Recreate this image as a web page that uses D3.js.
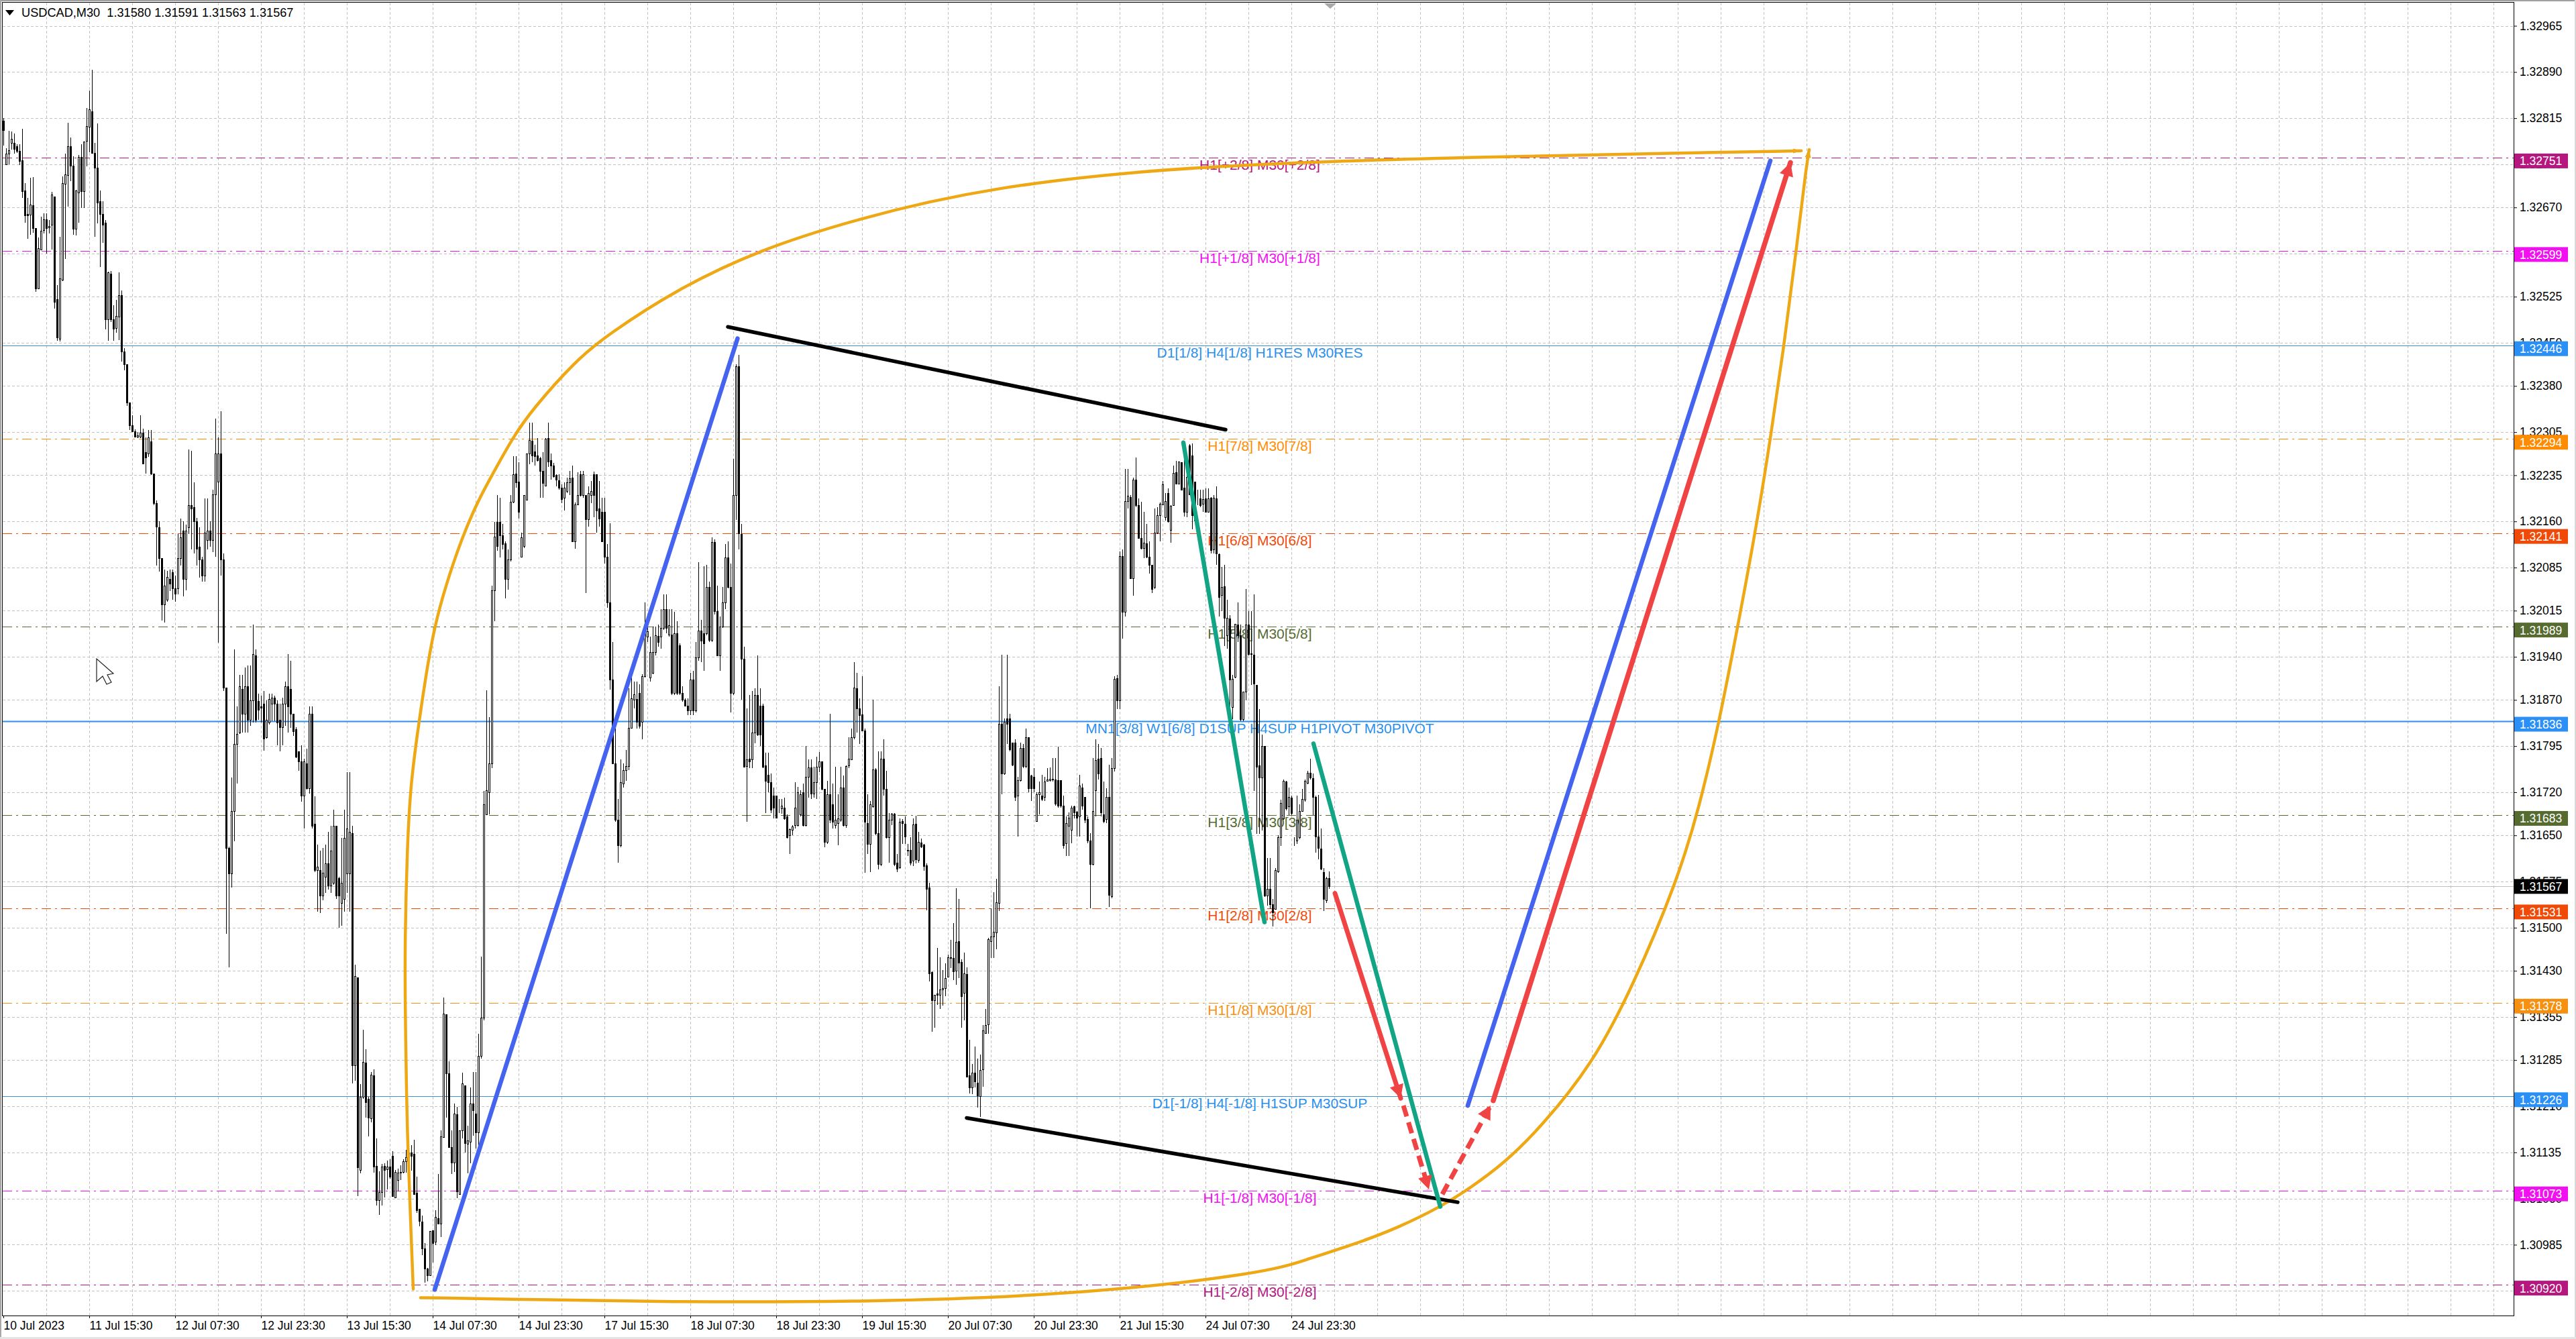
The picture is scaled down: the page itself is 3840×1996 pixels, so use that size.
<!DOCTYPE html>
<html><head><meta charset="utf-8">
<script src="https://cdn.jsdelivr.net/npm/d3@7"></script>
<style>html,body{margin:0;padding:0;background:#fff;overflow:hidden}svg{display:block}text{font-family:"Liberation Sans",Arial,sans-serif}</style>
</head><body><svg id="c" width="3840" height="1996"></svg>
<script>
// Values are points above 1.30000 (2751 = 1.32751), one entry per 30-minute bar.
const opens=[
2811,2740,2757,2775,2775,2769,2762,2746,2697,2659,
2658,2674,2636,2538,2602,2633,2651,2637,2642,2688,
2521,2457,2553,2708,2722,2769,2738,2635,2694,2752,
2696,2778,2801,2826,2758,2734,2680,2659,2645,2488,
2562,2488,2474,2493,2527,2436,2415,2353,2316,2306,
2298,2298,2304,2272,2270,2290,2238,2190,2150,2100,
2025,2033,2066,2077,2051,2051,2100,2145,2067,2150,
2186,2183,2160,2119,2098,2072,2130,2145,2130,2204,
2225,2270,2098,1890,1630,1588,1690,1798,1817,1888,
1848,1892,1838,1869,1942,1868,1860,1864,1809,1833,
1864,1874,1864,1838,1826,1864,1892,1888,1848,1822,
1786,1770,1715,1767,1726,1848,1669,1594,1594,1552,
1583,1604,1568,1573,1666,1580,1540,1547,1588,1588,
1653,1276,1419,1106,1225,1281,1222,1190,1260,1113,
1057,1071,1113,1108,1112,1129,1062,1090,1103,1103,
1121,1127,1135,1133,1069,1043,1023,979,946,935,
1008,990,1028,1019,1160,1359,1263,1143,1118,1197,
1067,1171,1244,1149,1152,1214,1198,1167,1292,1354,
1684,1720,1767,2048,2159,2159,2137,2124,2067,2098,
2192,2238,2224,2103,2120,2195,2270,2291,2274,2267,
2263,2242,2218,2295,2259,2251,2235,2227,2215,2198,
2209,2223,2231,2128,2187,2237,2203,2203,2163,2203,
2237,2237,2181,2176,2176,2103,2028,1903,1767,1675,
1634,1734,1756,1763,1825,1870,1871,1881,1834,1909,
1973,1906,1914,1948,1974,1973,1987,2017,1976,1976,
1881,1978,1959,1881,1870,1861,1853,1903,1853,1939,
1983,1978,1978,2053,1967,2126,2014,1942,1989,2028,
2101,2053,1881,2203,2412,2140,1937,1763,1775,1773,
1817,1878,1861,1861,1764,1748,1736,1714,1714,1690,
1694,1695,1681,1650,1659,1667,1667,1684,1720,1667,
1745,1760,1718,1736,1761,1770,1725,1639,1717,1700,
1667,1670,1675,1728,1667,1764,1773,1809,1889,1856,
1846,1820,1670,1636,1697,1757,1653,1603,1775,1725,
1647,1675,1685,1606,1598,1673,1669,1626,1626,1609,
1669,1610,1638,1635,1601,1565,1428,1382,1393,1391,
1400,1402,1420,1452,1451,1430,1478,1444,1394,1425,
1260,1240,1265,1248,1226,1270,1329,1343,1478,1486,
1492,1540,1831,1751,1840,1840,1801,1801,1715,1740,
1792,1762,1809,1747,1745,1673,1717,1714,1712,1738,
1740,1742,1741,1740,1740,1698,1637,1665,1659,1697,
1688,1681,1728,1712,1676,1642,1603,1723,1775,1776,
1684,1676,1712,1551,1759,1905,1869,2104,2013,2193,
2200,2068,2228,2186,2133,2117,2124,2102,2089,2053,
2142,2170,2187,2167,2206,2146,2186,2240,2221,2256,
2215,2175,2283,2267,2225,2196,2197,2189,2197,2176,
2198,2114,2197,2107,2040,2054,1975,2002,1858,1907,
1992,1975,1839,1883,1992,1946,1943,1894,1764,1744,
1795,1552,1563,1538,1530,1591,1647,1677,1737,1697,
1711,1642,1642,1647,1690,1708,1735,1752,1743,1712,
1648,1628,1590,1544,1580];
const highs=[
2815,2766,2795,2793,2790,2773,2773,2798,2709,2685,
2718,2719,2636,2621,2655,2660,2660,2649,2695,2688,
2544,2622,2720,2757,2807,2784,2753,2699,2755,2773,
2777,2831,2860,2894,2775,2806,2697,2680,2649,2566,
2567,2511,2520,2564,2535,2441,2415,2353,2332,2310,
2305,2332,2311,2296,2308,2308,2238,2194,2160,2100,
2082,2080,2082,2082,2072,2140,2165,2160,2155,2277,
2275,2223,2166,2150,2103,2197,2197,2160,2212,2327,
2296,2339,2108,1890,1632,1744,1952,1859,1911,1911,
1923,1926,1926,1992,1952,1880,1877,1885,1869,1880,
1880,1877,1869,1864,1874,1900,1945,1934,1848,1826,
1786,1796,1775,1791,1859,1859,1713,1635,1625,1630,
1635,1656,1666,1692,1666,1583,1646,1692,1753,1753,
1666,1440,1419,1246,1334,1303,1225,1266,1270,1158,
1104,1116,1117,1122,1124,1137,1107,1109,1114,1124,
1139,1151,1147,1155,1096,1043,1032,988,947,1007,
1008,1041,1100,1171,1387,1359,1283,1171,1214,1209,
1171,1265,1244,1178,1240,1266,1266,1328,1453,1722,
1886,1842,2056,2159,2203,2198,2156,2128,2114,2203,
2266,2266,2256,2142,2203,2270,2320,2320,2284,2295,
2265,2273,2295,2320,2270,2255,2237,2237,2220,2223,
2231,2242,2251,2191,2240,2242,2242,2203,2217,2226,
2241,2237,2226,2198,2198,2123,2157,1964,1823,1709,
1773,1767,1789,1889,1906,1900,1900,1895,1912,2028,
2009,1973,1989,1989,1992,2017,2042,2042,2017,2017,
2013,1998,1962,1892,1873,1873,1914,1917,1964,2094,
2000,2087,2089,2062,2134,2131,2056,2006,2053,2123,
2128,2092,2262,2415,2431,2156,1956,1856,1878,1884,
1889,1942,1889,1864,1784,1784,1750,1728,1714,1709,
1709,1711,1684,1661,1667,1736,1729,1723,1734,1795,
1773,1773,1761,1778,1785,1770,1725,1739,1848,1734,
1761,1717,1761,1747,1764,1809,1823,1931,1914,1873,
1909,1823,1717,1706,1870,1759,1786,1786,1806,1755,
1686,1686,1686,1620,1678,1676,1681,1636,1647,1678,
1682,1656,1645,1636,1604,1573,1429,1391,1467,1452,
1431,1442,1456,1480,1508,1564,1547,1449,1460,1436,
1318,1279,1307,1287,1294,1342,1368,1483,1532,1558,
1579,1892,1943,1840,1943,1848,1801,1806,1745,1801,
1798,1823,1809,1748,1759,1720,1737,1748,1745,1759,
1760,1776,1776,1794,1740,1715,1681,1687,1698,1698,
1690,1748,1734,1712,1681,1653,1776,1806,1798,1792,
1737,1726,1765,1776,1909,1911,2111,2114,2245,2245,
2203,2231,2264,2197,2192,2175,2156,2128,2089,2181,
2183,2191,2226,2206,2214,2186,2251,2258,2257,2256,
2289,2258,2286,2287,2225,2211,2211,2211,2214,2214,
2200,2203,2217,2108,2086,2089,2033,2008,1911,1994,
2028,1992,1883,2050,2014,2014,2042,1894,1855,1814,
1795,1613,1613,1547,1597,1650,1708,1741,1739,1728,
1714,1647,1714,1700,1725,1741,1755,1775,1750,1714,
1716,1661,1597,1583,1591];
const lows=[
2771,2740,2740,2764,2757,2758,2739,2686,2645,2619,
2626,2629,2533,2538,2602,2628,2595,2628,2602,2506,
2453,2452,2550,2586,2671,2713,2626,2624,2645,2669,
2669,2737,2760,2758,2622,2644,2573,2613,2472,2453,
2484,2453,2466,2455,2420,2405,2348,2308,2306,2296,
2295,2295,2254,2238,2265,2235,2186,2088,2079,1999,
1996,2030,2047,2033,2030,2041,2088,2038,2048,2140,
2114,2108,2088,2069,2062,2062,2114,2119,2110,2103,
1963,2072,1885,1490,1436,1565,1640,1734,1815,1817,
1817,1817,1828,1833,1833,1838,1833,1788,1807,1830,
1835,1836,1796,1786,1796,1828,1817,1825,1812,1776,
1755,1705,1661,1724,1718,1661,1590,1526,1524,1545,
1557,1562,1557,1570,1547,1500,1503,1526,1557,1526,
1247,1251,1064,1101,1222,1192,1161,1184,1102,1049,
1034,1049,1062,1075,1092,1063,1062,1072,1090,1101,
1102,1125,1105,1067,1037,1015,968,923,926,935,
956,984,1019,997,1160,1192,1142,1100,1103,1061,
1067,1158,1135,1101,1117,1162,1141,1136,1287,1349,
1684,1684,1759,1998,2112,2101,2114,2035,2049,2095,
2190,2215,2165,2103,2117,2195,2253,2256,2251,2257,
2198,2198,2217,2248,2228,2231,2217,2212,2190,2178,
2206,2203,2126,2116,2187,2201,2198,2044,2151,2190,
2167,2142,2151,2126,2092,2020,1887,1767,1672,1606,
1631,1728,1739,1756,1823,1856,1824,1823,1806,1906,
1964,1900,1912,1942,1956,1953,1984,1978,1973,1878,
1878,1878,1878,1867,1859,1845,1845,1845,1850,1934,
1931,1917,1975,1964,1964,2009,1942,1917,1987,2017,
2051,1850,1878,2162,2115,1870,1761,1672,1759,1759,
1800,1811,1795,1759,1686,1720,1686,1678,1678,1686,
1685,1675,1645,1620,1650,1661,1664,1681,1664,1664,
1711,1709,1711,1709,1753,1723,1631,1636,1670,1661,
1661,1634,1672,1664,1662,1759,1773,1806,1817,1798,
1820,1589,1620,1590,1695,1650,1595,1600,1714,1645,
1606,1667,1600,1590,1596,1636,1636,1616,1601,1600,
1605,1606,1630,1593,1528,1413,1331,1337,1375,1368,
1373,1389,1420,1434,1415,1407,1418,1337,1350,1258,
1231,1230,1240,1208,1193,1242,1328,1328,1451,1451,
1465,1527,1717,1748,1798,1787,1762,1706,1648,1737,
1759,1759,1720,1706,1720,1673,1684,1706,1706,1737,
1737,1737,1698,1695,1695,1628,1617,1617,1637,1678,
1648,1648,1692,1670,1637,1532,1601,1681,1741,1681,
1670,1670,1534,1548,1754,1855,1855,1969,2005,2181,
2067,2039,2183,2133,2114,2100,2100,2075,2044,2050,
2139,2128,2186,2161,2158,2125,2185,2220,2220,2210,
2168,2167,2203,2147,2161,2186,2183,2175,2175,2175,
2108,2108,2089,2006,2014,1958,1953,1836,1839,1905,
1964,1836,1836,1869,1942,1894,1722,1652,1652,1658,
1550,1536,1530,1502,1530,1589,1633,1675,1691,1683,
1683,1633,1636,1644,1689,1705,1733,1741,1683,1622,
1611,1594,1527,1540,1563];
const closes=[
2796,2757,2763,2781,2765,2762,2745,2696,2657,2657,
2675,2636,2538,2604,2632,2651,2636,2640,2691,2517,
2459,2555,2709,2724,2769,2738,2635,2697,2752,2696,
2777,2802,2829,2758,2735,2678,2659,2642,2488,2564,
2488,2473,2494,2528,2436,2415,2353,2316,2306,2298,
2300,2304,2254,2264,2296,2238,2190,2152,2100,2025,
2056,2070,2059,2051,2043,2100,2134,2067,2145,2186,
2181,2160,2116,2098,2072,2142,2145,2130,2204,2270,
2270,2098,1890,1630,1588,1690,1798,1815,1892,1848,
1892,1838,1869,1945,1838,1854,1857,1807,1838,1871,
1874,1864,1833,1826,1864,1892,1859,1848,1819,1778,
1770,1715,1770,1726,1848,1666,1594,1599,1552,1589,
1604,1568,1625,1666,1552,1552,1573,1646,1661,1656,
1276,1421,1111,1225,1282,1217,1191,1261,1112,1057,
1071,1112,1107,1112,1096,1064,1103,1102,1102,1121,
1127,1135,1129,1067,1041,1024,979,946,935,1007,
988,1030,1019,1161,1360,1263,1143,1118,1198,1072,
1171,1247,1150,1154,1214,1204,1167,1292,1354,1700,
1723,1767,2048,2135,2120,2137,2123,2067,2098,2192,
2237,2223,2176,2134,2203,2270,2292,2267,2266,2259,
2242,2222,2294,2257,2251,2233,2228,2215,2196,2215,
2223,2230,2128,2187,2203,2203,2237,2163,2206,2209,
2203,2178,2165,2128,2103,2028,1903,1767,1675,1634,
1736,1756,1763,1825,1873,1879,1834,1828,1909,1992,
1981,1948,1948,1975,1964,1987,2017,1987,1991,1881,
1978,1881,1881,1870,1861,1853,1903,1853,1939,1983,
1966,1962,2053,1967,2126,2014,1942,1989,2028,2101,
2053,1881,2203,2412,2141,1937,1761,1773,1770,1817,
1878,1814,1814,1761,1739,1736,1692,1695,1679,1689,
1698,1678,1647,1660,1664,1695,1720,1717,1667,1745,
1760,1718,1736,1761,1770,1725,1639,1717,1675,1672,
1675,1678,1728,1667,1763,1774,1809,1890,1856,1845,
1820,1672,1636,1700,1757,1653,1603,1775,1725,1647,
1675,1685,1603,1596,1672,1670,1648,1625,1606,1668,
1611,1639,1632,1600,1563,1426,1382,1391,1391,1400,
1402,1418,1452,1451,1429,1477,1443,1389,1426,1258,
1240,1264,1250,1227,1269,1333,1342,1481,1486,1493,
1541,1831,1751,1834,1831,1790,1765,1712,1740,1792,
1762,1809,1726,1726,1726,1717,1720,1709,1737,1741,
1742,1741,1701,1698,1698,1634,1670,1679,1695,1687,
1679,1731,1698,1675,1642,1603,1690,1772,1751,1687,
1673,1712,1553,1759,1904,1869,2104,2013,2193,2202,
2068,2228,2186,2133,2117,2125,2102,2089,2050,2142,
2170,2189,2220,2193,2160,2185,2239,2221,2257,2211,
2175,2232,2204,2170,2161,2196,2186,2196,2176,2197,
2113,2198,2108,2037,2053,2003,2003,1903,1904,1993,
1975,1839,1883,1992,1944,1945,1896,1761,1744,1795,
1552,1563,1538,1525,1594,1647,1703,1739,1694,1712,
1686,1641,1675,1690,1709,1739,1752,1744,1712,1648,
1629,1596,1547,1581,1567];
const lastBar=closes.length-1;
const headerQuote="USDCAD,M30  1.31580 1.31591 1.31563 1.31567";
const priceTicks=[2965,2890,2815,2740,2670,2595,2525,2450,2380,2305,2235,2160,2085,2015,1940,1870,1795,1720,1650,1575,1500,1430,1355,1285,1210,1135,1060,985,910];
const timeLabels=["10 Jul 2023","11 Jul 15:30","12 Jul 07:30","12 Jul 23:30","13 Jul 15:30","14 Jul 07:30","14 Jul 23:30","17 Jul 15:30","18 Jul 07:30","18 Jul 23:30","19 Jul 15:30","20 Jul 07:30","20 Jul 23:30","21 Jul 15:30","24 Jul 07:30","24 Jul 23:30"];
const levelPrices=[2751,2599,2446,2294,2141,1989,1836,1683,1531,1378,1226,1073,920];
const levelTexts=["H1[+2/8] M30[+2/8]","H1[+1/8] M30[+1/8]","D1[1/8] H4[1/8] H1RES M30RES","H1[7/8] M30[7/8]","H1[6/8] M30[6/8]","H1[5/8] M30[5/8]","MN1[3/8] W1[6/8] D1SUP H4SUP H1PIVOT M30PIVOT","H1[3/8] M30[3/8]","H1[2/8] M30[2/8]","H1[1/8] M30[1/8]","D1[-1/8] H4[-1/8] H1SUP M30SUP","H1[-1/8] M30[-1/8]","H1[-2/8] M30[-2/8]"];
const levelColors=["#B5177F","#F010F0","#2A90EE","#FF8C00","#F04A08","#556B2F","#2A90EE","#556B2F","#F04A08","#F59010","#2A90EE","#F010F0","#B5177F"];
const levelStyles=["dd","dd","solid","dd","dd","dd","solidThick","dd","dd","dd","solid","dd","dd"];
// Drawn studies: [bar index, price points]
const arcUpper=[[152.75,913],[151.7,1030],[150.75,1143],[150.25,1226],[149.75,1369],[149.65,1481],[150.5,1630],[151.75,1734],[155,1838],[158.25,1931],[160.75,1989],[164.5,2051],[171,2135],[177.25,2197],[183.75,2248],[189.75,2295],[196.75,2340],[213.25,2421],[224.75,2462],[251.25,2538],[282.25,2602],[317,2650],[366,2703],[445.75,2740],[561.25,2753],[623.75,2758],[670,2762]];
const arcLower=[[155.5,899],[198.75,896],[243.75,892],[323.25,892],[396.75,903],[470.25,938],[486.25,962],[503,985],[519.5,1012],[536.25,1048],[546.25,1076],[559.5,1118],[573,1176],[592,1277],[607,1402],[623.75,1575],[632,1695],[639.5,1835],[646.25,1987],[653,2144],[658.75,2300],[663.75,2451],[668.25,2603],[671.75,2732],[673,2764]];
const blueA=[[160.75,912],[273.6,2457]], blueB=[[545.75,1211],[658.5,2746]];
const blackTop=[[270,2476],[455.5,2309]], blackBottom=[[359,1191],[542,1054]];
const greenA=[[439.75,2288],[470,1509]], greenB=[[488.25,1799],[535.5,1047]];
const redA=[[496.25,1556],[520.75,1223]], redDashA=[[521.75,1211],[531.25,1075]], redDashB=[[536.25,1067],[554.25,1211]], redB=[[555.25,1219],[666,2743]];

const svg=d3.select("#c");
const plot={l:4,r:3747,t:4,b:1961};
const x=d3.scaleLinear().domain([0,935.5]).range([5,3747]);
const y=d3.scaleLinear().domain([1.30870,1.330026]).range([1961,4]);
const px=b=>Math.round(x(b));
const py=p=>y(1.3+p/1e5);
const crisp=v=>Math.round(v)+0.5;

svg.append("rect").attr("width",3840).attr("height",1996).attr("fill","#fff");
// window chrome
svg.append("rect").attr("x",0).attr("y",0).attr("width",3840).attr("height",2).attr("fill","#A0A0A0");
svg.append("rect").attr("x",0).attr("y",0).attr("width",2).attr("height",1996).attr("fill","#A8A8A8");
svg.append("rect").attr("x",3838).attr("y",0).attr("width",2).attr("height",1996).attr("fill","#D8D8D8");
svg.append("rect").attr("x",0).attr("y",1993).attr("width",3840).attr("height",3).attr("fill","#E4E4E4");

const gridG=svg.append("g").attr("stroke","#C2C2C2").attr("stroke-width",1).attr("stroke-dasharray","4 3");
d3.range(1,59).forEach(k=>{const gx=crisp(x(16*k));gridG.append("line").attr("x1",gx).attr("x2",gx).attr("y1",plot.t).attr("y2",plot.b);});
priceTicks.forEach(p=>{const gy=crisp(py(p));gridG.append("line").attr("x1",plot.l).attr("x2",plot.r).attr("y1",gy).attr("y2",gy);});

// Murrey / pivot level lines
levelPrices.forEach((p,i)=>{
  const ly=crisp(py(p)), st=levelStyles[i];
  svg.append("line").attr("x1",plot.l).attr("x2",plot.r).attr("y1",ly).attr("y2",ly)
    .attr("stroke",st==="solid"?"#3F8FCF":levelColors[i]).attr("stroke-width",st==="solidThick"?2:1)
    .attr("stroke-dasharray",st==="dd"?"14 6 3 6":null);
});
svg.append("line").attr("x1",plot.l).attr("x2",plot.r).attr("y1",crisp(py(closes[lastBar]))).attr("y2",crisp(py(closes[lastBar]))).attr("stroke","#BEBEBE");

// level captions
levelPrices.forEach((p,i)=>{
  svg.append("text").attr("x",x(468.25)).attr("y",py(p)+18).attr("text-anchor","middle")
    .attr("font-size",21).attr("fill",levelColors[i]).text(levelTexts[i]);
});

// candles
const candle=svg.append("g").attr("shape-rendering","crispEdges");
closes.forEach((c,i)=>{
  const o=opens[i],h=Math.max(highs[i],o,c),l=Math.min(lows[i],o,c),cx=px(i);
  candle.append("line").attr("x1",cx+.5).attr("x2",cx+.5).attr("y1",py(h)).attr("y2",py(l)).attr("stroke","#000");
  const top=Math.round(py(Math.max(o,c))),bot=Math.round(py(Math.min(o,c)));
  candle.append("rect").attr("x",cx-.5).attr("y",top+.5).attr("width",2).attr("height",Math.max(bot-top,0))
    .attr("fill",c>=o?"#fff":"#000").attr("stroke","#000");
});

// studies
const lineGen=d3.line().x(d=>x(d[0])).y(d=>py(d[1]));
const curveGen=d3.line().x(d=>x(d[0])).y(d=>py(d[1])).curve(d3.curveBasis);
const orange="#EDA814",blue="#4463EE",red="#F04444",green="#12A585";
function stroke(pts,col,w,gen,dash,cap){
  return svg.append("path").attr("d",(gen||lineGen)(pts)).attr("fill","none").attr("stroke",col).attr("stroke-width",w)
    .attr("stroke-linecap",cap||"round").attr("stroke-dasharray",dash||null);
}
function arrow(pts,col,len,wid){
  const a=pts[pts.length-2],b=pts[pts.length-1];
  const bx=x(b[0]),by=py(b[1]),ax=x(a[0]),ay=py(a[1]);
  const d=Math.hypot(bx-ax,by-ay),ux=(bx-ax)/d,uy=(by-ay)/d;
  const mx=bx-ux*len,my=by-uy*len;
  svg.append("polygon").attr("fill",col).attr("points",[[bx,by],[mx-uy*wid/2,my+ux*wid/2],[mx+uy*wid/2,my-ux*wid/2]].map(q=>q.join(",")).join(" "));
}
stroke(arcUpper,orange,4.5,curveGen);
stroke(arcLower,orange,4.5,curveGen);
arrow(arcUpper,orange,12,7);arrow(arcLower,orange,12,9);
stroke(blackTop,"#000",5.5);stroke(blackBottom,"#000",5.5);
stroke(blueA,blue,6.5);stroke(blueB,blue,6.5);
stroke(greenA,green,6.5);stroke(greenB,green,6.5);
stroke(redA,red,7);arrow(redA,red,20,21);
stroke(redDashA,red,7,null,"17 9","butt");arrow(redDashA,red,20,21);
stroke(redDashB,red,7,null,"17 9","butt");arrow(redDashB,red,20,21);
stroke(redB,red,7.5);arrow(redB,red,20,21);

// frame
svg.append("rect").attr("x",plot.l-.5).attr("y",plot.t-.5).attr("width",plot.r-plot.l+1).attr("height",plot.b-plot.t+1).attr("fill","none").attr("stroke","#000").attr("stroke-width",1);

// axes
const yAxis=d3.axisRight(y).tickValues(priceTicks.map(p=>1.3+p/1e5)).tickFormat(d3.format(".5f")).tickSize(5).tickPadding(4);
const gy=svg.append("g").attr("transform",`translate(${plot.r},0)`).call(yAxis);
const xAxis=d3.axisBottom(x).tickValues(timeLabels.map((_,i)=>32*i)).tickFormat((d,i)=>timeLabels[i]).tickSize(4).tickPadding(5);
const gx=svg.append("g").attr("transform",`translate(0,${plot.b})`).call(xAxis);
[gy,gx].forEach(g=>{g.select(".domain").remove();g.selectAll("text").attr("font-family",'"Liberation Sans",Arial,sans-serif').attr("font-size",17.5).attr("fill","#000");g.selectAll("line").attr("stroke","#000");});
gx.selectAll("text").attr("text-anchor","start");

// price flags
levelPrices.forEach((p,i)=>{
  const cy=py(p)+5;
  svg.append("rect").attr("x",3748).attr("y",cy-11).attr("width",80).attr("height",22).attr("fill",levelColors[i]==="#2A90EE"?"#2A90F5":levelColors[i]);
  svg.append("text").attr("x",3756).attr("y",cy+6.5).attr("font-size",17.5).attr("fill","#fff").text((1.3+p/1e5).toFixed(5));
});
const curY=py(closes[lastBar]);
svg.append("rect").attr("x",3748).attr("y",curY-11).attr("width",80).attr("height",22).attr("fill","#000");
svg.append("text").attr("x",3756).attr("y",curY+6.5).attr("font-size",17.5).attr("fill","#fff").text((1.3+closes[lastBar]/1e5).toFixed(5));

// header
svg.append("polygon").attr("points","8,15 21,15 14.5,23").attr("fill","#000");
svg.append("text").attr("x",32).attr("y",25).attr("font-size",18.2).attr("fill","#000").attr("xml:space","preserve").style("white-space","pre").text(headerQuote);

// chart-shift marker and mouse pointer
const sx=x(lastBar+.5);
svg.append("polygon").attr("points",`${sx-9},5 ${sx+9},5 ${sx},13`).attr("fill","#A8A8A8");
svg.append("path").attr("transform","translate(144,982)").attr("d","M0,0 L0,34 L9,26 L15,38 L22,35 L16,24 L25,22 Z").attr("fill","#fff").attr("stroke","#222").attr("stroke-width",1.2);
</script></body></html>
